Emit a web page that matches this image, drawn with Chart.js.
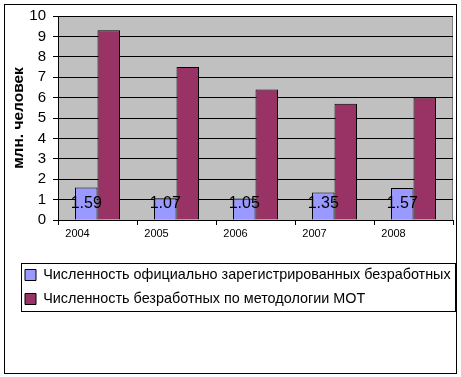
<!DOCTYPE html>
<html>
<head>
<meta charset="utf-8">
<script src="https://cdn.jsdelivr.net/npm/chart.js@4/dist/chart.umd.min.js"></script>
<style>
  html, body { margin: 0; padding: 0; background: #ffffff; }
  canvas { display: block; }
</style>
</head>
<body>
<canvas id="c" width="461" height="377"></canvas>
<script>
const years = ['2004', '2005', '2006', '2007', '2008'];
const registeredUnemployed = [1.59, 1.07, 1.05, 1.35, 1.57];
const iloUnemployed = [9.3, 7.5, 6.4, 5.7, 6.0];
const seriesNames = [
  'Численность официально зарегистрированных безработных',
  'Численность безработных по методологии МОТ'
];
const yAxisTitle = 'млн. человек';
const yMin = 0, yMax = 10, yStep = 1;

const FONT = '"Liberation Sans", Arial, sans-serif';

const bgPlugin = {
  id: 'bg',
  beforeDraw(chart) {
    const { ctx, chartArea: a } = chart;
    ctx.save();
    ctx.fillStyle = '#ffffff';
    ctx.fillRect(0, 0, chart.width, chart.height);
    ctx.fillStyle = '#C0C0C0';
    ctx.fillRect(a.left, a.top, a.right - a.left, a.bottom - a.top);
    ctx.strokeStyle = '#808080';
    ctx.lineWidth = 1;
    ctx.strokeRect(a.left + 0.5, a.top + 0.5, a.right - a.left - 1, a.bottom - a.top);
    ctx.restore();
  }
};

const labelPlugin = {
  id: 'vals',
  afterDatasetsDraw(chart) {
    const { ctx } = chart;
    const meta = chart.getDatasetMeta(0);
    ctx.save();
    ctx.font = '16px ' + FONT;
    ctx.fillStyle = '#000000';
    ctx.textAlign = 'center';
    ctx.textBaseline = 'alphabetic';
    meta.data.forEach((bar, i) => {
      ctx.fillText(registeredUnemployed[i].toFixed(2), bar.x, bar.base - 11.5);
    });
    ctx.restore();
  }
};

const framePlugin = {
  id: 'frame',
  afterDraw(chart) {
    const { ctx } = chart;
    ctx.save();
    ctx.strokeStyle = '#000000';
    ctx.lineWidth = 1;
    ctx.strokeRect(4.5, 4.5, 452, 369);
    const hb = chart.legend.legendHitBoxes;
    if (hb && hb.length) {
      const top = Math.round(hb[0].top + hb[0].height / 2 - 12) + 0.5;
      const bottom = Math.round(hb[hb.length - 1].top + hb[hb.length - 1].height / 2 + 12) + 0.5;
      const left = 21.5;
      const right = 455.5;
      ctx.strokeRect(left, top, right - left, bottom - top);
    }
    ctx.restore();
  }
};

new Chart(document.getElementById('c'), {
  type: 'bar',
  data: {
    labels: years,
    datasets: [
      {
        label: seriesNames[0],
        data: registeredUnemployed,
        backgroundColor: '#9999FF',
        borderColor: '#000000',
        borderWidth: 1,
        categoryPercentage: 0.57,
        barPercentage: 1.0
      },
      {
        label: seriesNames[1],
        data: iloUnemployed,
        backgroundColor: '#993366',
        borderColor: '#000000',
        borderWidth: 1,
        categoryPercentage: 0.57,
        barPercentage: 1.0
      }
    ]
  },
  options: {
    responsive: false,
    animation: false,
    devicePixelRatio: 1,
    layout: { padding: { left: 15.4, right: 8, top: 15, bottom: 60.8 } },
    plugins: {
      tooltip: { enabled: false },
      legend: {
        position: 'bottom',
        align: 'start',
        labels: {
          boxWidth: 11,
          boxHeight: 11,
          padding: 9.6,
          color: '#000000',
          font: { family: FONT, size: 14.4 }
        }
      }
    },
    scales: {
      x: {
        grid: {
          offset: true,
          drawOnChartArea: false,
          drawTicks: true,
          tickLength: 5,
          color: '#000000'
        },
        border: { display: true, color: '#000000', width: 1 },
        ticks: {
          color: '#000000',
          font: { family: FONT, size: 11 },
          padding: 2,
          labelOffset: -20,
          maxRotation: 0,
          autoSkip: false
        },
        afterFit(scale) { scale.height = 38.2; }
      },
      y: {
        min: yMin,
        max: yMax,
        ticks: {
          stepSize: yStep,
          autoSkip: false,
          color: '#000000',
          font: { family: FONT, size: 15 },
          padding: 7
        },
        grid: {
          color: '#000000',
          lineWidth: 1,
          tickLength: 5,
          drawTicks: true
        },
        border: { display: true, color: '#000000', width: 1 },
        title: {
          display: true,
          text: yAxisTitle,
          color: '#000000',
          font: { family: FONT, size: 15.5, weight: 'bold' },
          padding: { top: -5.5, bottom: 0 }
        },
        afterFit(scale) { scale.width = 42.6; }
      }
    }
  },
  plugins: [bgPlugin, labelPlugin, framePlugin]
});
</script>
</body>
</html>
